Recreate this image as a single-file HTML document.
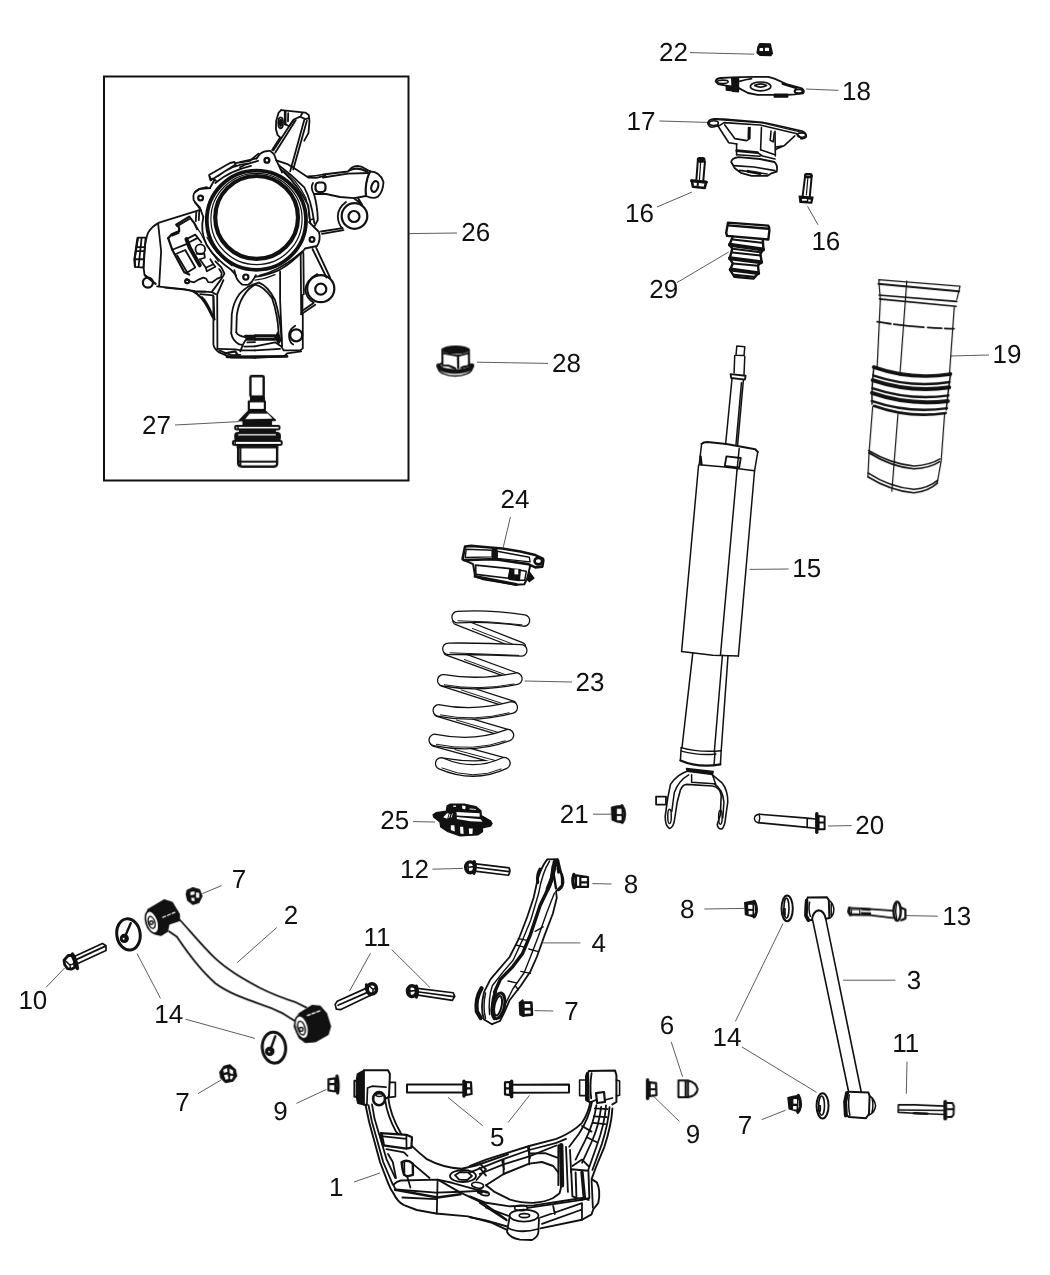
<!DOCTYPE html>
<html><head><meta charset="utf-8">
<style>
html,body{margin:0;padding:0;background:#fff;}
body{width:1050px;height:1275px;overflow:hidden;font-family:"Liberation Sans",sans-serif;}
svg{display:block;}
.t text{font-family:"Liberation Sans",sans-serif;font-size:26px;fill:#111;text-rendering:geometricPrecision;}
.l line{stroke:#4a4a4a;stroke-width:0.9;}
.t{will-change:transform;}
.p{fill:none;stroke:#111;stroke-width:1.5;stroke-linejoin:round;stroke-linecap:round;}
.p *{vector-effect:non-scaling-stroke;}
.q{stroke-width:1.8;}
.w{fill:#fff;}
.b{stroke-width:2.2;}
.h{stroke-width:1.2;}
.k{fill:#111;}
</style></head><body>
<svg width="1050" height="1275" viewBox="0 0 1050 1275">
<rect width="1050" height="1275" fill="#fff"/>
<!--FRAME-->
<rect x="104" y="76.5" width="304.5" height="404" fill="none" stroke="#111" stroke-width="2"/>
<!--LEADERS-->
<g class="l">
<line x1="690" y1="52.6" x2="754" y2="54.2"/>
<line x1="806" y1="89" x2="838.4" y2="90.4"/>
<line x1="659.4" y1="121" x2="708" y2="122.4"/>
<line x1="657" y1="207" x2="692" y2="192"/>
<line x1="807.6" y1="206.4" x2="818" y2="224.8"/>
<line x1="677" y1="282.6" x2="728.6" y2="252"/>
<line x1="950" y1="356" x2="989" y2="355"/>
<line x1="409" y1="233.6" x2="457" y2="233"/>
<line x1="477" y1="362.2" x2="548" y2="363.4"/>
<line x1="175" y1="425" x2="239" y2="421.6"/>
<line x1="510.4" y1="517" x2="503.2" y2="547.6"/>
<line x1="749.6" y1="569.4" x2="788.6" y2="569"/>
<line x1="524.6" y1="681" x2="572" y2="682"/>
<line x1="413" y1="821.6" x2="435" y2="822"/>
<line x1="593" y1="814.2" x2="612" y2="814.2"/>
<line x1="828" y1="826" x2="851.6" y2="825.6"/>
<line x1="432.4" y1="869.2" x2="462.8" y2="868.4"/>
<line x1="592.4" y1="883.6" x2="611.6" y2="884"/>
<line x1="704.4" y1="909" x2="744.4" y2="908.4"/>
<line x1="906" y1="915.6" x2="937.8" y2="916.2"/>
<line x1="202.4" y1="893.6" x2="221.6" y2="885.6"/>
<line x1="276.8" y1="927.5" x2="237.1" y2="962.7"/>
<line x1="370.5" y1="953.2" x2="349.5" y2="991.1"/>
<line x1="391.6" y1="949.5" x2="430" y2="987.6"/>
<line x1="542.9" y1="942.9" x2="580.3" y2="942.9"/>
<line x1="843" y1="980.2" x2="895.4" y2="980.2"/>
<line x1="46" y1="987.4" x2="64.6" y2="968"/>
<line x1="137.1" y1="953.6" x2="160.5" y2="998.4"/>
<line x1="185.6" y1="1019.2" x2="254.9" y2="1038.4"/>
<line x1="534.4" y1="1010.6" x2="553.3" y2="1011"/>
<line x1="671.2" y1="1041.8" x2="682.6" y2="1076.8"/>
<line x1="783" y1="923.6" x2="735.4" y2="1021.4"/>
<line x1="742" y1="1047" x2="816.6" y2="1092.4"/>
<line x1="907" y1="1061.6" x2="906.3" y2="1093.8"/>
<line x1="198" y1="1093.6" x2="221" y2="1080"/>
<line x1="296.4" y1="1103.4" x2="326.4" y2="1089.4"/>
<line x1="652" y1="1094.8" x2="679.4" y2="1121.4"/>
<line x1="448" y1="1097.4" x2="482.8" y2="1125.8"/>
<line x1="529.4" y1="1095.4" x2="508" y2="1122.6"/>
<line x1="761.8" y1="1119.6" x2="785.6" y2="1110.2"/>
<line x1="354" y1="1182" x2="380" y2="1173"/>
</g>
<!--LABELS-->
<g class="t">
<text x="659.1" y="61.0">22</text>
<text x="842.0" y="99.8">18</text>
<text x="626.5" y="129.6">17</text>
<text x="625.0" y="222.0">16</text>
<text x="811.4" y="249.5">16</text>
<text x="649.2" y="297.5">29</text>
<text x="992.5" y="363.3">19</text>
<text x="461.3" y="241.0">26</text>
<text x="552.0" y="372.0">28</text>
<text x="142.1" y="433.8">27</text>
<text x="500.5" y="508.2">24</text>
<text x="792.3" y="577.2">15</text>
<text x="575.5" y="691.2">23</text>
<text x="380.3" y="829.0">25</text>
<text x="559.7" y="823.0">21</text>
<text x="855.2" y="833.6">20</text>
<text x="400.0" y="877.8">12</text>
<text x="623.7" y="893.0">8</text>
<text x="680.0" y="918.0">8</text>
<text x="942.2" y="925.3">13</text>
<text x="231.8" y="887.8">7</text>
<text x="283.8" y="923.8">2</text>
<text x="363.6" y="945.8">11</text>
<text x="591.4" y="951.5">4</text>
<text x="906.8" y="988.9">3</text>
<text x="18.4" y="1009.4">10</text>
<text x="154.2" y="1023.2">14</text>
<text x="564.2" y="1019.5">7</text>
<text x="659.7" y="1033.5">6</text>
<text x="712.6" y="1046.0">14</text>
<text x="892.3" y="1052.1">11</text>
<text x="175.3" y="1111.2">7</text>
<text x="273.2" y="1119.8">9</text>
<text x="685.8" y="1142.6">9</text>
<text x="489.9" y="1145.7">5</text>
<text x="737.7" y="1134.1">7</text>
<text x="329.0" y="1196.0">1</text>
</g>
<!--PARTS-->
<g class="p" transform="translate(840,880) scale(0.12)">
<!-- bolt 13 -->
<path d="M80,232 L180,236 L440,256 M86,290 L250,292 L440,316" stroke-width="1.8"/>
<path d="M78,234 L72,265 L86,290" stroke-width="3"/>
<path d="M95,246 L165,246 L165,284 L95,280 Z" stroke-width="1.2"/>
<path d="M185,242 L250,246 M182,276 L250,279" stroke-width="2.4"/>
<ellipse cx="476" cy="260" rx="30" ry="79" stroke-width="2.4"/>
<path d="M470,200 Q458,260 472,325" stroke-width="1.4"/>
<path d="M505,230 L545,246 L545,320 L510,335" stroke-width="2.2"/>
</g>
<g class="p" transform="translate(860,1010) scale(0.12)">
<!-- bolt 11 right -->
<path d="M320,790 L450,790 L700,800 M320,852 L450,860 L700,870 M320,790 L318,852 M330,832 L700,836" stroke-width="1.6"/>
<path d="M450,860 L560,863" stroke-width="2.6"/>
<path d="M710,765 L710,905" stroke-width="3.8"/>
<path d="M730,775 L770,775 L782,800 L780,870 L765,890 L730,890 M730,826 L782,826" stroke-width="2"/>
</g>

<g class="p" transform="translate(640,330) scale(0.16)">
<path d="M605,100 L655,105 L650,160 L600,158 Z M592,160 L588,268 M655,165 L650,278" />
<path d="M566,276 L660,286 L656,310 L570,300 Z" stroke-width="1.8"/>
<path d="M575,305 L535,715 M646,315 L610,720 M634,330 L600,715"/>
<path d="M385,712 Q395,700 420,700 L540,712 L720,745 L736,762" stroke-width="2"/>
<path d="M385,712 L370,842 M736,762 L716,880 M370,842 L530,856 L716,880"/>
<path d="M540,790 L630,800 L620,860 L530,850 Z" stroke-width="1.8"/>
<path d="M620,740 L606,880"/>
<path d="M378,790 L384,840" stroke-width="2.4"/>
</g>
<g class="p" transform="translate(620,520) scale(0.16)">
<path d="M385,822 L580,845 L740,850"/>
</g>
<g class="p" transform="translate(610,690) scale(0.16)">
<path d="M445,360 Q550,392 695,380 M446,382 Q560,412 662,400"/>
<path d="M445,360 L440,440 M695,380 L690,465 M656,392 L650,472"/>
<path d="M440,440 Q550,488 690,465" stroke-width="2.2"/>
<path d="M478,490 L645,510 L640,528 L482,508 Z" class="k"/>
<path d="M500,502 Q420,525 378,590 L360,680 L345,790 Q345,850 372,866 Q398,860 405,800 L420,700 L440,625 Q455,590 480,590 L640,600 Q690,610 695,660 L690,780 L670,840 Q675,872 700,868 Q718,850 722,800 L736,700 Q738,630 700,580 L640,530" stroke-width="1.6"/>
<path d="M492,530 Q430,565 402,640 L386,760 M510,530 L510,576 L650,586 M640,530 L662,592 M650,586 Q705,620 712,700 L705,800"/>
<ellipse cx="372" cy="790" rx="11" ry="44"/>
<ellipse cx="690" cy="795" rx="11" ry="44"/>
<rect x="288" y="666" width="62" height="50" stroke-width="1.8"/>
</g>

<g class="p">
<path d="M698.56,465.2 L681.6,651.52 M754.56,470.8 L738.4,656 M736.96,470.8 L720.5,654.7"/>
<path d="M692.8,652.8 L682,747.6 M728,656 L721.2,750.8 M722.4,655.2 L714.3,752"/>
</g>

<g class="p" transform="translate(680,150) scale(0.12)">
<!-- 16 left bolt -->
<path d="M148,95 L136,255 M208,95 L194,258" stroke-width="2"/><path d="M172,100 L162,250" stroke-width="1.2"/>
<rect x="146" y="64" width="60" height="36" rx="16" class="k"/>
<path d="M98,256 L218,268 L206,316 L108,306 Z" stroke-width="2.6"/>
<path d="M150,270 L146,305" stroke-width="2"/>
<path d="M96,256 L220,268" stroke-width="3"/>
<!-- 29 bumper -->
<path d="M400,605 L735,630 Q748,645 745,670 L736,746 L392,716 L385,690 Z" stroke-width="2.4"/>
<path d="M402,628 L738,656" stroke-width="2.4"/>
<path d="M440,722 L412,790 L436,822 L414,905 L440,945 L418,1000 L452,1056 L612,1072 L656,1022 L650,962 L680,930 L670,868 L695,822 L690,750" stroke-width="2.4"/>
<path d="M440,745 L682,772 M440,822 L670,852 M436,855 L672,880 M440,945 L650,965 M452,1040 L616,1056" stroke-width="2"/>
<path d="M416,790 L692,830 M416,902 L676,936 M422,996 L652,1026" stroke-width="4"/>
</g>
<g class="p" transform="translate(770,150) scale(0.08)">
<!-- 16 right bolt -->
<path d="M440,320 L408,575 M522,320 L498,575" stroke-width="2"/><path d="M475,330 L455,560" stroke-width="1.2"/>
<rect x="440" y="302" width="78" height="36" rx="14" stroke-width="2.4"/>
<path d="M366,578 L536,592 L520,664 L376,654 Z" class="k"/>
<rect x="400" y="612" width="60" height="22" fill="#fff" stroke="none"/>
<rect x="478" y="620" width="30" height="24" fill="#fff" stroke="none"/>
</g>

<g class="p" style="stroke-width:1.6" transform="translate(700,30) scale(0.12)">
<!-- 22 nut -->
<path d="M497,116 L585,118 L602,195 L590,212 L500,210 L477,190 L484,140 Z" class="k"/>
<rect x="496" y="150" width="30" height="26" rx="6" fill="#fff" stroke="none"/>
<rect x="541" y="148" width="34" height="28" rx="6" fill="#fff" stroke="none"/>
<!-- 18 plate -->
<path d="M130,428 Q135,405 170,400 L270,395 L430,390 L570,390 L620,405 L720,450 L850,487 Q875,505 860,528 L790,537 L730,541 L480,541 L400,525 L320,482 L250,470 L150,450 Z" stroke-width="1.8"/>
<ellipse cx="190" cy="432" rx="45" ry="14"/>
<ellipse cx="822" cy="510" rx="34" ry="17" stroke-width="2"/>
<ellipse cx="505" cy="470" rx="85" ry="37" stroke-width="1.6"/>
<path d="M455,462 Q505,435 555,462 Q505,490 455,462" stroke-width="1.6"/>
<path d="M265,400 L320,400 L320,515 L270,510 Z M220,470 L270,470 L270,505 L220,500 Z M620,535 L730,535 L730,558 L620,558 Z" class="k"/>
<path d="M690,448 L800,482" stroke-width="2.6"/>
<path d="M320,430 L380,415 L430,405"/>
<!-- 17 mount -->
<path d="M65,775 Q70,745 120,740 L200,743 L520,770 L600,786 L850,842 Q890,860 886,890 Q870,910 840,905"/>
<path d="M65,775 Q70,805 100,810 L165,795 M165,795 L200,772 L500,792 L800,862 L850,905" />
<path d="M110,745 L520,775 L860,855" class="h"/>
<ellipse cx="115" cy="776" rx="38" ry="20"/>
<ellipse cx="846" cy="876" rx="34" ry="19"/>
<path d="M150,800 L240,940 L308,950 M205,790 L290,905 L390,922 L415,905 L417,812 M405,812 L402,900"/>
<path d="M790,882 L700,965 L630,975 M700,965 L640,990 L628,1000"/>
<path d="M305,950 L305,1040 M625,845 L628,1050 M512,812 L505,1000"/>
<path d="M592,842 L585,920 L610,932 L620,852"/>
<path d="M305,1005 L480,1022" stroke-width="2.6"/>
<path d="M305,1040 L500,1052 M510,1000 L625,1040 M480,1022 L520,1050 L625,1075"/>
<path d="M260,1100 Q262,1070 320,1060 L500,1075 L620,1100 Q650,1125 640,1180 L600,1192 L560,1216 L430,1216 L340,1190 L290,1152 Z" stroke-width="1.8"/>
<path d="M280,1130 L450,1142 L625,1172 M330,1170 L560,1200"/>
<path d="M400,1178 L500,1196" stroke-width="3"/>
</g>

<g class="p" transform="translate(850,265) scale(0.16)">
<path d="M180,92 L688,133 L668,215 M180,92 L190,215" class="h"/>
<path d="M178,118 L682,165" stroke-width="2"/>
<path d="M182,188 L668,228 M184,212 L664,258" stroke-width="1.6"/>
<path d="M190,215 L170,640 M652,262 L622,680 M355,100 L312,690" class="h"/>
<path d="M170,355 Q400,392 650,398" stroke-width="1.8" stroke-dasharray="14 3 30 4"/>
<!-- bellows -->
<path d="M150,632 Q135,760 138,870 M630,672 Q612,800 602,905" />
<path d="M148,638 Q380,720 628,682" stroke-width="3.6"/>
<path d="M145,690 Q380,770 622,732" stroke-width="2.4"/>
<path d="M142,720 Q380,800 620,765" stroke-width="4"/>
<path d="M140,770 Q380,850 615,815" stroke-width="2.4"/>
<path d="M138,800 Q370,880 612,850" stroke-width="4"/>
<path d="M136,850 Q370,930 606,895" stroke-width="2.4"/>
<path d="M150,880 Q370,960 598,925" stroke-width="2.6"/>
<!-- lower body -->
<path d="M142,885 L120,1165 L112,1324 M592,925 L570,1225 L545,1364 M300,932 L262,1414" class="h"/>
<path d="M118,1174 Q260,1262 400,1274 Q500,1268 560,1229 M116,1160 Q260,1245 400,1256 Q500,1250 562,1212"/>
<path d="M112,1324 Q250,1410 400,1424 Q490,1415 545,1364 M113,1300 Q250,1390 400,1402 Q490,1395 548,1345"/>
</g>

<g class="p q" transform="translate(340,1020) scale(0.2)">
<!-- hex hole -->
<ellipse cx="615" cy="780" rx="65" ry="30" stroke-width="1.8"/>
<path d="M575,776 L600,760 L640,762 L660,780 L636,800 L596,798 Z"/>
<ellipse cx="688" cy="826" rx="30" ry="14" transform="rotate(10 688 826)" stroke-width="1.6"/>
<ellipse cx="722" cy="866" rx="24" ry="11" transform="rotate(10 722 866)"/>
<ellipse cx="700" cy="858" rx="12" ry="8"/>
<!-- ribs -->
<path d="M700,720 L730,746 L682,800 M810,700 L820,746 M940,640 L950,690"/>
<!-- ball joint boss -->
<ellipse cx="920" cy="978" rx="72" ry="30" stroke-width="1.8"/>
<path d="M848,985 L835,1060 Q850,1090 900,1098 L960,1100 Q990,1085 992,1060 L995,990" stroke-width="1.8"/>
<path d="M840,1040 Q900,1070 990,1045"/>
<ellipse cx="905" cy="940" rx="32" ry="13" stroke-width="1.6"/>
<ellipse cx="922" cy="978" rx="26" ry="10" stroke-width="1.6"/>
<!-- bolt 5 left -->
<path d="M335,322 L610,322 M335,362 L610,362 M335,322 L335,362" stroke-width="2"/>
<path d="M620,306 L620,380" stroke-width="3.4"/>
<path d="M630,310 L655,312 L658,370 L630,375 Z M630,342 L657,342" stroke-width="2.2"/>
<!-- bolt 5 right -->
<path d="M825,312 L850,310 L850,376 L825,372 Z M825,342 L850,342" stroke-width="2.2"/>
<path d="M858,306 L858,384" stroke-width="3.4"/>
<path d="M865,324 L1145,322 L1145,362 L865,364" stroke-width="2"/>
</g>
<g class="p q" transform="translate(530,1020) scale(0.2)">
<!-- right bushing -->
<path d="M248,300 L280,300 M248,378 L280,378 M248,300 L248,378" stroke-width="1.6"/>
<path d="M295,255 L425,252 L432,275 L432,410 L412,422 M295,255 L280,280 L280,400 L300,412" stroke-width="2"/>
<path d="M287,268 L290,402" stroke-width="3.4"/>
<path d="M308,266 Q298,330 306,392"/>
<path d="M432,300 L448,305 L448,376 L432,380" stroke-width="1.6"/>
<path d="M330,366 L370,360 L375,410 L336,415 Z" stroke-width="2.2"/>
<path d="M300,412 L330,400 M375,400 L412,390"/>
</g>

<g class="p q" transform="translate(470,1070) scale(0.16)">
<!-- upper arm bands -->
<path d="M0,640 L200,560 L370,500 L540,455 L600,430 M60,650 L210,590 L370,540 L540,472"/>
<path d="M100,720 L210,650 L370,585 L450,575 L520,600 L552,640" stroke-width="1.9"/>
<path d="M100,720 L150,760 L250,810 Q330,832 400,830 Q470,825 520,800 L560,770 L572,720" stroke-width="1.9"/>
<path d="M370,522 L470,520 L545,548 M210,560 L210,652 M370,475 L370,590 M60,610 L100,660"/>
<path d="M0,600 L100,560 L370,475 L540,430 Q640,390 700,330 Q740,270 752,200" stroke-width="1.9"/>
<!-- bars & pocket -->
<path d="M570,470 L575,720" stroke-width="4.5" stroke-dasharray="1.5 1"/>
<path d="M552,470 L552,720 M600,480 L612,762 M625,500 L632,640"/>
<path d="M632,620 L740,630 L746,800 L700,812 L640,790 Z M660,640 L665,790" stroke-width="1.9"/>
<path d="M700,640 L715,800" stroke-width="3.4"/>
<path d="M640,600 L700,560 L740,600"/>
<!-- ribs -->
<path d="M762,200 Q745,300 680,400 L620,480 M790,220 Q775,330 720,440 L660,560 M820,230 Q805,350 760,450 L700,580 M850,222 Q842,340 790,480 L740,622 M872,232 Q865,330 825,460 L765,625"/>
<path d="M780,240 L860,245 M775,290 L855,295 M770,330 L845,338 M700,350 L760,385 M730,420 L790,450"/>
<path d="M890,240 Q885,340 840,480 L790,600 L760,682 L792,702 Q818,750 802,830 L770,872 L760,902 L700,936 L440,990" stroke-width="1.9"/>
<path d="M760,690 L768,860"/>
<!-- lower plate -->
<path d="M0,790 L100,830 L250,852 L400,846 L560,822 L700,800 L742,812" stroke-width="1.9"/>
<path d="M100,860 L240,912 M360,862 L500,842 L700,812 M440,922 L700,832 M450,962 L700,872 M700,936 L700,832 M520,850 L530,900"/>
<path d="M0,920 L100,940 L232,978" stroke-width="1.9"/>
<path d="M60,830 L230,940"/>
</g>
<g class="p q" transform="translate(340,1050) scale(0.16)">
<!-- left bushing -->
<path d="M110,150 L150,128 L150,342 L112,332 L105,300 L105,180 Z" class="k"/>
<path d="M110,192 L90,192 L90,292 L108,292" stroke-width="2"/>
<path d="M150,126 L300,126 L312,150 L306,292 L288,302 M150,342 L168,342" stroke-width="2"/>
<path d="M312,202 L346,202 L346,292 L308,296" stroke-width="1.7"/>
<path d="M168,342 L172,238 L200,226 L288,232" stroke-width="1.7"/>
<ellipse cx="244" cy="304" rx="37" ry="41" stroke-width="2.6" fill="#fff"/>
<ellipse cx="246" cy="282" rx="22" ry="9" stroke-width="1.4"/>
<!-- arm outer left -->
<path d="M160,345 L182,450 L250,700 L300,830 Q315,870 332,892 Q360,950 400,970 L480,1000 L600,1022 L800,1040 L950,1080 L1040,1122" stroke-width="1.9"/>
<path d="M178,345 L200,450 L270,700 L330,842 M200,340 L216,430 L290,680 L345,800"/>
<!-- inner edge -->
<path d="M302,300 Q312,400 380,520 Q440,600 540,680 Q640,735 760,742 L850,722 L1050,652" stroke-width="1.9"/>
<path d="M282,312 Q295,410 350,510 L400,560"/>
<!-- box -->
<path d="M255,520 L415,530 L450,546 L446,610 L416,616 L270,596 Z" stroke-width="2.2" fill="#fff"/>
<path d="M270,540 L415,556 L416,614 M415,530 L415,556"/>
<path d="M258,525 L272,594" stroke-width="3"/>
<path d="M290,620 L400,640 L422,662 M300,650 L330,700 L350,800"/>
<!-- slot -->
<path d="M385,702 Q420,680 455,710 L456,780 L420,790 L400,780 L390,740 Z" stroke-width="2.4"/>
<path d="M402,702 L402,778 M455,712 L560,800 M420,790 L440,860"/>
<!-- plate -->
<path d="M335,842 Q355,820 380,816 L610,810 L700,830 L880,880 L920,892" stroke-width="1.9"/>
<path d="M335,842 Q340,865 350,872 L600,892 L760,886 L880,880"/>
<path d="M345,874 L610,922 L752,902" stroke-width="2.6"/>
<path d="M390,922 L600,932 M610,810 L605,1022 M620,815 L750,890 L900,960 L1040,1060"/>
</g>

<g class="p" transform="translate(740,780) scale(0.12)">
<path d="M160,285 L560,318 L630,325 M150,355 L560,395 L626,402 M560,318 L560,395" stroke-width="1.6"/>
<path d="M160,285 Q120,290 120,322 Q125,352 150,355 M160,287 Q172,320 158,354" stroke-width="1.4"/>
<path d="M640,280 L640,435" stroke-width="3.4"/>
<path d="M655,300 L705,306 L705,410 L655,410 Z M655,352 L705,354" stroke-width="2"/>
<!-- nut 8 -->
<path d="M40,1022 L112,1008 L112,1140 L46,1122 Z" class="k"/>
<rect x="68" y="1040" width="36" height="34" fill="#fff" stroke="none"/>
<rect x="72" y="1090" width="32" height="30" fill="#fff" stroke="none"/>
<path d="M120,1010 Q142,1050 137,1098 Q131,1130 118,1142" stroke-width="2.8"/>
</g>

<g class="p" transform="translate(590,780) scale(0.12)">
<path d="M180,228 L222,218 L270,215 L270,355 L222,348 L185,332 Z" class="k"/>
<rect x="224" y="240" width="38" height="44" fill="#fff" stroke="none"/>
<rect x="224" y="300" width="38" height="36" fill="#fff" stroke="none"/>
<path d="M266,214 Q290,245 288,290 Q287,330 268,354" stroke-width="3"/>
</g>

<g transform="translate(410,520) scale(0.16)" fill="none" stroke-linecap="round" stroke-linejoin="round">
<!-- diagonals (back strands) -->
<g stroke="#111" stroke-width="56">
<path d="M292,630 L698,790"/><path d="M235,822 L672,982"/><path d="M205,1015 L640,1155"/><path d="M175,1205 L615,1335"/><path d="M150,1390 L588,1510"/><path d="M205,1512 Q400,1545 575,1515"/>
</g>
<g stroke="#fff" stroke-width="40">
<path d="M292,630 L698,790"/><path d="M235,822 L672,982"/><path d="M205,1015 L640,1155"/><path d="M175,1205 L615,1335"/><path d="M150,1390 L588,1510"/><path d="M205,1512 Q400,1545 575,1515"/>
</g>
<g stroke="#111" stroke-width="6">
<path d="M390,678 L640,775"/><path d="M340,872 L600,968"/><path d="M320,1062 L580,1148"/><path d="M290,1250 L560,1330"/><path d="M280,1435 L540,1505"/>
</g>
<!-- bands (front strands) -->
<g stroke="#111" stroke-width="80">
<path d="M298,607 Q500,596 712,628"/><path d="M240,805 Q470,803 695,815"/><path d="M208,1002 Q430,1040 665,992"/><path d="M180,1190 Q400,1235 636,1172"/><path d="M155,1375 Q400,1425 612,1345"/>
<path d="M195,1522 Q400,1610 590,1520" />
</g>
<g stroke="#fff" stroke-width="64">
<path d="M298,607 Q500,596 712,628"/><path d="M240,805 Q470,803 695,815"/><path d="M208,1002 Q430,1040 665,992"/><path d="M180,1190 Q400,1235 636,1172"/><path d="M155,1375 Q400,1425 612,1345"/>
<path d="M195,1522 Q400,1610 590,1520" />
</g>
<!-- inner highlight lines -->
<g stroke="#111" stroke-width="6">
<path d="M300,630 Q500,632 700,655"/><path d="M250,830 Q470,838 680,846"/><path d="M215,1030 Q430,1068 650,1025"/><path d="M190,1218 Q400,1262 620,1205"/><path d="M165,1402 Q400,1450 595,1380"/><path d="M200,1550 Q400,1632 570,1556"/>
</g>
</g>

<g class="p" transform="translate(450,530) scale(0.1004)">
<path d="M150,165 L210,158 L400,175 L520,185 L700,215 L850,250 L925,285 L930,300 L920,365 L850,372 L800,350 L780,340 L480,297 L400,292 L140,300 L125,290 Z" stroke-width="2.6" fill="#fff"/>
<path d="M162,192 L420,202 L420,268 L152,274 Z M470,212 L790,272 L798,318 L470,283 Z" stroke-width="1.4"/>
<rect x="425" y="185" width="40" height="110" class="k"/>
<ellipse cx="880" cy="310" rx="38" ry="32" stroke-width="2.6"/>
<path d="M140,300 L230,340 L250,462 L330,490 L660,545 L740,540 L770,482 L800,350" stroke-width="2"/>
<path d="M255,350 L600,385 L582,480 L258,442 Z" stroke-width="1.6"/>
<path d="M600,385 L700,396 L690,502 L588,490 Z" class="k"/>
<rect x="642" y="392" width="38" height="50" fill="#fff" stroke="none"/>
<path d="M790,420 L835,480 L790,512 L770,490 Z" class="k"/>
<path d="M250,462 L660,542" stroke-width="3"/>
<path d="M700,400 L760,410 L745,500 L690,500"/>
</g>

<g class="p" transform="translate(420,790) scale(0.08)">
<path d="M340,200 L380,178 L550,178 L700,210 L760,260 L765,320 L880,385 L900,420 L880,450 L780,472 L780,520 L720,560 L500,572 L350,520 L260,460 L250,400 L175,340 L165,310 L200,285 L330,265 Z" class="k"/>
<g fill="#fff" stroke="none">
<path d="M455,275 L745,290 L745,335 L460,320 Z"/>
<path d="M460,338 L760,366 L780,396 L630,390 L460,362 Z"/>
<path d="M290,340 L340,292 L360,292 L340,360 Z"/>
<path d="M385,440 L430,440 L435,520 L385,500 Z"/>
<path d="M500,460 L540,460 L545,550 L505,545 Z"/>
<path d="M610,480 L660,480 L655,550 L615,550 Z"/>
<path d="M415,195 L450,195 L450,210 L415,210 Z"/>
<path d="M525,195 L570,200 L565,240 L530,235 Z"/>
<path d="M620,230 L700,236 L700,248 L620,244 Z"/>
<path d="M370,300 L380,300 L365,350 L355,350 Z M400,295 L410,295 L395,345 L385,345 Z"/>
</g>
</g>

<g class="p q" transform="translate(240,95) scale(0.1004)">
<!-- upper arm -->
<path d="M410,150 L385,175 L360,260 L358,340 L375,400 L400,422 L320,548"/>
<path d="M410,150 L650,175 L685,200 L692,260 L682,380 L640,455"/>
<ellipse cx="405" cy="277" rx="24" ry="54"/>
<ellipse cx="405" cy="277" rx="9" ry="32"/>
<path d="M450,165 L450,290" stroke-width="2.6"/>
<path d="M480,182 L478,262 M450,290 L490,312 L540,242 L600,216 L622,180 M600,216 L650,240 L686,230"/>
<path d="M530,250 L332,552 M556,250 L352,572"/>
<path d="M640,250 L500,760 M666,256 L530,742"/>
<!-- top ear -->
<path d="M165,632 L200,586 Q240,552 300,556 L340,590 L362,652 L420,772"/>
<circle cx="268" cy="650" r="24" stroke-width="2.4"/>
<path d="M362,652 L480,692 L560,742 L680,822 L760,826 L850,802"/>
<path d="M390,702 Q520,800 640,920 Q710,1050 740,1275 M430,762 Q580,900 680,1100 L700,1275" />
<path d="M165,632 L0,668 M180,655 L60,690 L0,720"/>
</g>
<g class="p q" transform="translate(90,60) scale(0.2)">
<!-- left ear -->
<path d="M600,640 L545,645 Q510,660 518,700 L545,738 L555,752"/>
<path d="M600,640 L622,600"/>
<path d="M726,516 L800,504 L842,468"/>
<circle cx="553" cy="690" r="12" stroke-width="2.2"/>
<path d="M595,575 L700,515 L722,510 L728,522 L622,590 L603,602 Z M603,602 L600,585 M640,580 Q720,520 790,518"/>
</g>
<g class="p">
<circle cx="256.4" cy="220.2" r="49.6" stroke-width="3.8"/>
<circle cx="256.5" cy="219" r="45.6" class="h"/>
<circle cx="256.6" cy="217.4" r="41.4" stroke-width="4.2"/>
</g>

<g class="p q" transform="translate(290,150) scale(0.1)">
<!-- right upper arm -->
<path d="M180,265 Q260,262 330,245 L580,215 L620,175 Q680,140 750,185 L800,215"/>
<path d="M600,200 Q680,165 770,215" class="b"/>
<path d="M800,215 Q900,215 935,320 Q930,420 880,465 Q830,495 760,460 L640,482 L500,470 L360,440 L240,440"/>
<path d="M800,215 Q745,330 760,460" class="b"/>
<path d="M330,275 L580,237 L790,230"/>
<ellipse cx="848" cy="365" rx="33" ry="55" transform="rotate(18 848 365)" class="b"/>
<rect x="255" y="325" width="100" height="95" rx="35" class="b"/>
<path d="M230,330 Q200,380 240,440"/>
<!-- middle boss -->
<circle cx="645" cy="660" r="128" class="b"/>
<path d="M560,520 Q480,580 478,660 Q480,740 525,785"/>
<circle cx="640" cy="665" r="55" class="b"/>
<path d="M525,782 L310,815 M535,802 L320,838"/>
<path d="M640,482 L700,530 M680,480 L720,545"/>
<!-- flange curve to ear -->
<path d="M240,440 Q275,560 278,700 L240,770"/>
<path d="M200,700 L230,690 M190,720 L290,820 Q310,900 270,960 L150,985 L110,1040"/>
<circle cx="220" cy="895" r="24" class="b"/>
<path d="M225,990 L365,1275 M262,978 L400,1275"/>
</g>

<g class="p q" transform="translate(255,250) scale(0.1004)">
<!-- lower right boss -->
<circle cx="655" cy="385" r="135" class="b"/>
<path d="M620,240 Q510,300 500,400 Q510,480 585,525"/>
<circle cx="655" cy="390" r="55" class="b"/>
<path d="M455,50 L460,640 M482,30 L486,440 M470,450 L470,620" />
<path d="M470,450 L470,620" class="b"/>
<path d="M460,640 L600,545 M482,598 L580,530"/>
<path d="M476,640 L476,980 L450,1000 L285,1000 L262,960"/>
<path d="M460,1010 L320,1030 L290,1060 L0,1075 M0,1000 L250,985 M0,960 L200,920 L262,960"/>
<circle cx="410" cy="850" r="60" class="b"/>
<path d="M400,755 Q330,800 340,870 Q350,930 380,940"/>
<path d="M250,215 L250,500 L270,960"/>
<path d="M40,325 Q130,360 200,500 Q255,680 265,900 M0,345 Q80,355 170,480 Q225,640 235,820"/>
<path d="M0,855 L200,855 M0,888 L200,888" stroke-width="3"/>
<path d="M230,820 L200,870 L235,930 L255,900 Z" class="k"/>
<!-- flange arcs -->
<path d="M0,268 Q130,250 250,195 Q380,120 470,15"/>
<path d="M0,300 Q100,290 200,245 M290,170 Q340,140 380,95" class="h"/>
</g>

<g class="p q" transform="translate(165,250) scale(0.1004)">
<!-- bottom ear -->
<path d="M690,200 L705,260 Q720,310 770,345 L830,347 Q870,320 885,285 L905,250"/>
<circle cx="805" cy="270" r="26" class="b"/>
<!-- arch -->
<path d="M660,830 L665,640 Q680,520 740,440 Q820,350 936,325"/>
<path d="M710,820 L715,650 Q730,540 780,460 Q830,380 896,345"/>
<path d="M660,830 Q670,900 740,940 L775,945 M710,820 Q725,855 800,868" />
<path d="M800,858 L896,858 M812,890 L896,890" stroke-width="3"/>
<path d="M820,920 L896,918 M775,945 L800,900 M760,1000 L896,1000 M790,962 L896,960 M775,945 L750,1010"/>
<!-- body left -->
<path d="M520,440 L522,985 M482,460 L482,940 Q490,990 540,1020 L660,1072 L896,1075"/>
<path d="M522,985 L700,990 L760,1000 M540,1000 L660,1048 L750,1045" />
<path d="M600,1030 L700,1010 L720,1040" class="b"/>
<!-- web -->
<path d="M0,375 L200,395 L300,410 L470,420 L505,440"/>
<path d="M280,410 Q370,460 430,580 L470,660 L492,690" class="b"/>
<path d="M350,440 L480,452 M370,470 Q420,520 470,640 M482,460 L492,690"/>
<path d="M470,412 L560,290 L592,238 M520,440 L582,300"/>
<!-- caliper bottom edge -->
<path d="M210,290 L250,312 L290,322 L340,292 L380,275 L410,285 L430,320 L470,322 L520,285 L560,270 L565,230 L540,190"/>
<circle cx="220" cy="312" r="20"/>
</g>
<g class="p" transform="translate(180,250) scale(0.2)">
<path d="M235,534 L535,532" stroke-width="2.8"/>
</g>

<g class="p q" transform="translate(195,155) scale(0.11922)">
<path d="M70,520 Q40,640 100,760 Q180,880 300,960 L345,1010"/>
<path d="M100,690 Q170,830 310,930" class="h"/>
<path d="M70,520 L40,440 L0,400 M100,270 L40,285 L0,312"/>
<path d="M170,235 Q300,130 470,92" />
<path d="M130,205 Q150,190 175,215" />
<path d="M540,1012 Q700,970 850,850 L900,812"/>
<path d="M720,120 Q850,200 930,360 Q955,440 958,530" class="h"/>
</g>

<g class="p q" transform="translate(125,195) scale(0.1004)">
<!-- housing -->
<path d="M740,150 L340,275 Q270,310 230,375 Q200,450 190,600 L185,720 L195,800 M320,910 L600,940 L700,965 L800,962"/>
<path d="M330,285 L360,560 L340,905"/>
<path d="M740,150 L735,250 M710,170 L705,260"/>
<!-- connector -->
<path d="M130,425 L205,425 L185,722 L100,715 L95,640 Z M165,430 L135,715 M115,520 L198,520 M108,560 L195,560 M100,640 L190,640"/>
<path d="M125,430 L95,640 L100,715" class="b"/>
<!-- knob -->
<circle cx="228" cy="872" r="50" class="b"/>
<path d="M200,800 L305,885" class="b"/>
<!-- bracket -->
<path d="M430,430 L465,390 L540,360 L537,320 L510,295 L640,215 L690,280 L720,340" class="b"/>
<path d="M430,430 L470,545 L590,770 L640,792" class="b"/>
<path d="M470,405 L535,378 M520,310 L640,240 M470,545 L612,490 M500,590 L600,548 L700,722 L620,772 L520,602"/>
<path d="M612,440 L645,525 L745,700" stroke-width="4"/>
<path d="M612,440 L700,395 L760,470 M640,470 L720,430"/>
<circle cx="750" cy="540" r="48"/>
<path d="M715,585 L790,585 L795,625 L745,640 M745,640 L805,725 L880,690 L850,640 M805,725 L815,760 L900,715 L880,690"/>
<path d="M700,300 Q760,380 800,470 Q850,570 930,660" class="h"/>
<circle cx="620" cy="860" r="20"/>
<path d="M900,660 L960,720 L990,780"/>
</g>

<g class="p" transform="translate(205,360) scale(0.1004)">
<rect x="452" y="160" width="132" height="205" rx="12" stroke-width="2.4"/>
<rect x="455" y="368" width="135" height="40" class="k"/>
<rect x="436" y="412" width="160" height="86" stroke-width="2.2"/>
<path d="M436,505 L596,505 L700,600 L340,603 Z" class="k"/>
<path d="M445,535 L625,535 L672,585 L398,590 Z" fill="#fff" stroke="none"/>
<rect x="380" y="598" width="280" height="50" class="k"/>
<rect x="300" y="655" width="442" height="36" rx="12" stroke-width="2"/>
<path d="M328,658 L328,690" />
<rect x="345" y="698" width="355" height="24" class="k"/>
<rect x="298" y="722" width="450" height="80" rx="30" class="k"/>
<path d="M335,745 L700,745" stroke="#fff" stroke-width="1.2"/>
<rect x="278" y="806" width="486" height="40" rx="14" stroke-width="2"/>
<path d="M300,812 L300,842"/>
<rect x="322" y="848" width="400" height="24" class="k"/>
<path d="M330,870 L330,1035 Q335,1060 370,1062 L680,1062 Q715,1060 718,1035 L718,870" stroke-width="2.4"/>
<path d="M352,880 L352,1040 M340,1012 L712,1012" stroke-width="2"/>
</g>

<g class="p" transform="translate(420,330) scale(0.08)">
<ellipse cx="440" cy="475" rx="212" ry="100" stroke-width="1.6"/>
<path d="M232,445 Q240,505 440,520 Q640,505 650,445" stroke-width="4.6"/>
<path d="M282,240 L282,440 L350,440 L440,480 M608,240 L612,440 L520,468" fill="#fff" stroke-width="1.8"/>
<rect x="290" y="250" width="310" height="190" fill="#fff" stroke="none"/>
<path d="M282,240 L282,440 L350,442 L440,480 M610,240 L612,445 L515,470" stroke-width="1.8"/>
<ellipse cx="445" cy="248" rx="162" ry="44" class="k"/>
<path d="M285,290 L475,325 L608,288" stroke-width="1.8"/>
<path d="M475,320 L478,472" stroke-width="2.2"/>
</g>

<g class="p" transform="translate(100,860) scale(0.16)">
<!-- nut 7 top -->
<path d="M545,190 L580,175 L620,185 L636,225 L616,266 L580,276 L548,250 L540,215 Z" class="k"/>
<g fill="#fff" stroke="none"><path d="M565,200 L590,195 L590,216 L565,220 Z M600,202 L620,206 L620,236 L600,236 Z M570,236 L590,236 L590,258 L572,255 Z"/></g>
<!-- link arm -->
<path d="M495,370 C560,440 640,540 720,615 C800,690 900,745 1000,800 Q1100,850 1225,890 L1290,922" stroke-width="1.8"/>
<path d="M430,445 L480,480 C540,570 640,700 720,770 C800,830 900,865 1000,900 Q1080,925 1145,960 L1215,1005" stroke-width="1.8"/>
<!-- top bushing -->
<path d="M300,310 L400,250 L450,265 L495,340 L495,378 L430,400 L420,445 L380,470 L340,460 L300,420 L285,360 Z" class="k"/>
<ellipse cx="325" cy="388" rx="38" ry="72" transform="rotate(-18 325 388)" fill="#fff" stroke="#111" stroke-width="1.6"/>
<ellipse cx="322" cy="390" rx="20" ry="38" transform="rotate(-18 322 390)" stroke-width="1.4"/>
<circle cx="320" cy="392" r="11" stroke-width="1.4"/>
<path d="M392,358 L470,326" stroke="#fff" stroke-width="1.2" stroke-dasharray="3 2"/>
<!-- washer 14 left -->
<ellipse cx="178" cy="465" rx="73" ry="98" transform="rotate(-8 178 465)" stroke-width="3"/>
<circle cx="152" cy="490" r="24" class="k"/>
<circle cx="148" cy="492" r="6" fill="#fff" stroke="none"/>
<path d="M192,395 L160,470" stroke-width="2.4"/>
<!-- AB tile items: offset 625,250 -->
<g transform="translate(625,250)">
<path d="M620,710 L700,660 L750,665 L790,710 L815,790 L800,840 L720,885 L660,890 L620,860 L590,790 Z" class="k"/>
<ellipse cx="636" cy="795" rx="40" ry="74" transform="rotate(-15 636 795)" fill="#fff" stroke="#111" stroke-width="1.6"/>
<ellipse cx="634" cy="800" rx="22" ry="44" transform="rotate(-15 634 800)" stroke-width="1.4"/>
<circle cx="632" cy="808" r="12" stroke-width="1.4"/>
<path d="M672,722 L750,692" stroke="#fff" stroke-width="1.4" stroke-dasharray="3 2"/>
<!-- washer 14 bottom -->
<ellipse cx="462" cy="922" rx="73" ry="97" transform="rotate(-5 462 922)" stroke-width="3"/>
<circle cx="436" cy="946" r="25" class="k"/>
<circle cx="432" cy="948" r="6" fill="#fff" stroke="none"/>
<path d="M470,852 L445,922" stroke-width="2.4"/>
<!-- nut 7 bottom -->
<path d="M125,1075 L150,1040 L185,1030 L220,1060 L228,1100 L205,1130 L160,1140 L130,1110 Z" class="k"/>
<g fill="#fff" stroke="none"><path d="M145,1062 L168,1050 L172,1072 L150,1080 Z M185,1052 L208,1066 L205,1090 L185,1080 Z M150,1095 L172,1090 L178,1118 L160,1122 Z M188,1098 L208,1100 L200,1120 L188,1120 Z"/></g>
<!-- nut 9 left -->
<path d="M803,1120 L846,1114 L846,1196 L803,1190 Z M803,1150 L846,1150" stroke-width="2.2"/>
<path d="M856,1100 Q868,1150 860,1206" stroke-width="3.2"/>
</g>
</g>

<g class="p" transform="translate(770,870) scale(0.12)">
<!-- washer 14 top -->
<ellipse cx="143" cy="320" rx="47" ry="107" stroke-width="2"/>
<ellipse cx="137" cy="318" rx="21" ry="84" stroke-width="1.6"/>
<path d="M112,322 L126,322 L126,372 L112,372 Z" stroke-width="1.4"/>
<!-- link 3 rod -->
<path d="M355,415 L655,1848 M465,410 L760,1848" stroke-width="1.6"/>
<!-- top bushing -->
<path d="M315,230 L475,228 L490,250 L495,400 L465,407 M315,230 L300,260 L295,380 L315,420 L350,416" stroke-width="2"/>
<path d="M305,255 L300,380 L320,418" stroke-width="3.6"/>
<path d="M330,268 Q318,330 336,385" />
<path d="M495,255 Q530,280 532,330 Q530,380 500,400 M510,282 L510,380"/>
<path d="M350,416 Q355,350 405,336 Q450,340 465,407" stroke-width="2"/>
<!-- bottom bushing (X coords +1083) -->
<g transform="translate(0,1083.3)">
<path d="M655,765 L820,770 L830,800 L825,950 L800,985 L660,976 L640,960" stroke-width="2"/>
<path d="M642,775 L626,850 L632,962" stroke-width="4"/>
<path d="M660,790 Q648,880 666,962"/>
<path d="M830,800 Q872,825 880,880 Q875,935 825,960 M850,815 Q866,880 848,945"/>
<!-- washer 14 bottom -->
<ellipse cx="438" cy="882" rx="50" ry="105" stroke-width="2"/>
<ellipse cx="430" cy="880" rx="24" ry="80" stroke-width="1.6"/>
<path d="M405,880 L420,880 L420,925 L405,925 Z" stroke-width="1.4"/>
<!-- nut 7 -->
<path d="M150,815 L190,805 L228,798 L228,928 L160,906 Z" class="k"/>
<rect x="195" y="826" width="30" height="38" fill="#fff" stroke="none"/>
<rect x="192" y="884" width="30" height="28" fill="#fff" stroke="none"/>
<path d="M236,795 Q258,840 252,890 Q245,925 232,936" stroke-width="3.2"/>
</g>
</g>

<g class="p q" transform="translate(460,845) scale(0.16)">
<path d="M545,90 L610,88 M545,90 Q500,150 482,230 L460,330 L420,450 L370,580 L310,700 L250,770 L190,840 L150,920 Q125,1020 150,1090 L200,1120" stroke-width="1.8"/>
<path d="M560,100 Q515,170 492,300 L442,470 L392,590 L332,720 L272,790 L202,880 Q175,960 185,1060" stroke-width="1.4"/>
<path d="M610,90 Q640,170 636,250 L600,290 L605,330 L580,430 L530,560 L480,700 L440,790 L380,880 L310,970 L280,1040 L250,1100 L200,1120" stroke-width="1.8"/>
<path d="M602,100 L562,250 L500,380 L440,560 L390,680 L330,760 L252,840 L216,920" stroke-width="3.4"/>
<path d="M590,300 L540,430 L490,570 L440,700 L400,800 L330,900 L285,990" stroke-width="1.4"/>
<path d="M365,585 L420,596 M350,625 L405,640 M470,540 L520,512 M430,650 L490,666 M380,790 L440,802 M300,850 L352,862 M345,880 L365,905" stroke-width="1.4"/>
<path d="M610,150 Q645,175 645,235 Q640,270 615,282 M580,130 L565,240 M585,180 L600,270" stroke-width="2.4"/>
<path d="M500,150 Q478,190 486,235" stroke-width="3"/>
<path d="M135,895 Q95,960 105,1040 L130,1082" stroke-width="4.2"/>
<ellipse cx="240" cy="1005" rx="38" ry="82" transform="rotate(12 240 1005)" stroke-width="3"/>
<ellipse cx="238" cy="1005" rx="22" ry="62" transform="rotate(12 238 1005)" stroke-width="2"/>
<path d="M160,925 Q140,1010 160,1085" stroke-width="1.4"/>
<path d="M592,105 L578,200 L548,275" stroke-width="4.2"/>
<path d="M612,98 L616,170" stroke-width="3"/>
<path d="M222,915 Q190,1000 215,1085" stroke-width="3.4"/>
<!-- nut 8 -->
<path d="M712,185 Q698,225 714,266" stroke-width="3.4"/>
<path d="M725,190 L800,200 L800,262 L725,262 Z M752,196 L752,262 M752,232 L800,234" stroke-width="2.2"/>
<!-- nut 7 -->
<path d="M372,985 L392,970 L396,1070 L376,1060 Z" class="k"/>
<path d="M396,985 L446,985 L450,1060 L396,1065 Z M396,1026 L448,1026" stroke-width="2.6"/>
</g>

<g class="p" transform="translate(530,1020) scale(0.2)">
<!-- nut 9 right -->
<path d="M588,300 L588,392" stroke-width="3.4"/>
<path d="M598,312 L630,315 L632,376 L598,380 Z M598,346 L631,346" stroke-width="2.2"/>
<!-- cap 6 -->
<path d="M742,302 L790,302 Q832,312 838,346 Q832,380 790,386 L742,386 Z M778,304 L778,385 M790,302 L790,386" stroke-width="2"/>
</g>

<g class="p" transform="translate(10,920) scale(0.12)">
<!-- bolt 10 -->
<path d="M545,300 L770,195 L800,215 L800,255 L570,360 M560,326 L786,222" stroke-width="1.7"/>
<path d="M450,335 L485,296 L515,294 L536,340 L540,396 L510,410 L478,405 L455,370 Z" stroke-width="2.8" fill="#fff"/>
<path d="M462,340 L500,376 L536,362 M500,376 L505,408" stroke-width="1.4"/>
<path d="M520,284 Q552,330 562,404" stroke-width="3.4"/>
</g>
<g class="p" transform="translate(330,850) scale(0.16)">
<!-- bolt 12 -->
<path d="M900,85 L1120,112 Q1130,135 1115,158 L890,130 M900,108 L1120,135" stroke-width="1.7"/>
<ellipse cx="876" cy="108" rx="28" ry="34" stroke-width="3.4" fill="#fff"/>
<path d="M862,86 L864,130 M864,108 L900,104" stroke-width="1.6"/>
<path d="M902,72 Q916,108 900,146" stroke-width="3"/>
<!-- bolt 11 left -->
<path d="M235,860 L45,945 L32,965 L40,995 L65,998 L260,905 M245,885 L50,970" stroke-width="1.7"/>
<ellipse cx="262" cy="868" rx="29" ry="32" stroke-width="3.4" fill="#fff"/>
<path d="M246,850 L270,872 L290,856 M270,872 L266,900" stroke-width="1.6"/>
<path d="M228,842 Q222,880 250,906" stroke-width="3"/>
<!-- bolt 11 mid -->
<path d="M545,865 L770,892 L780,915 L765,940 L540,905 M545,886 L772,916" stroke-width="1.7"/>
<ellipse cx="512" cy="882" rx="28" ry="34" stroke-width="3.4" fill="#fff"/>
<path d="M498,860 L500,906 M500,882 L540,878" stroke-width="1.6"/>
<path d="M540,850 Q554,884 540,920" stroke-width="3"/>
</g>

</svg>
</body></html>
